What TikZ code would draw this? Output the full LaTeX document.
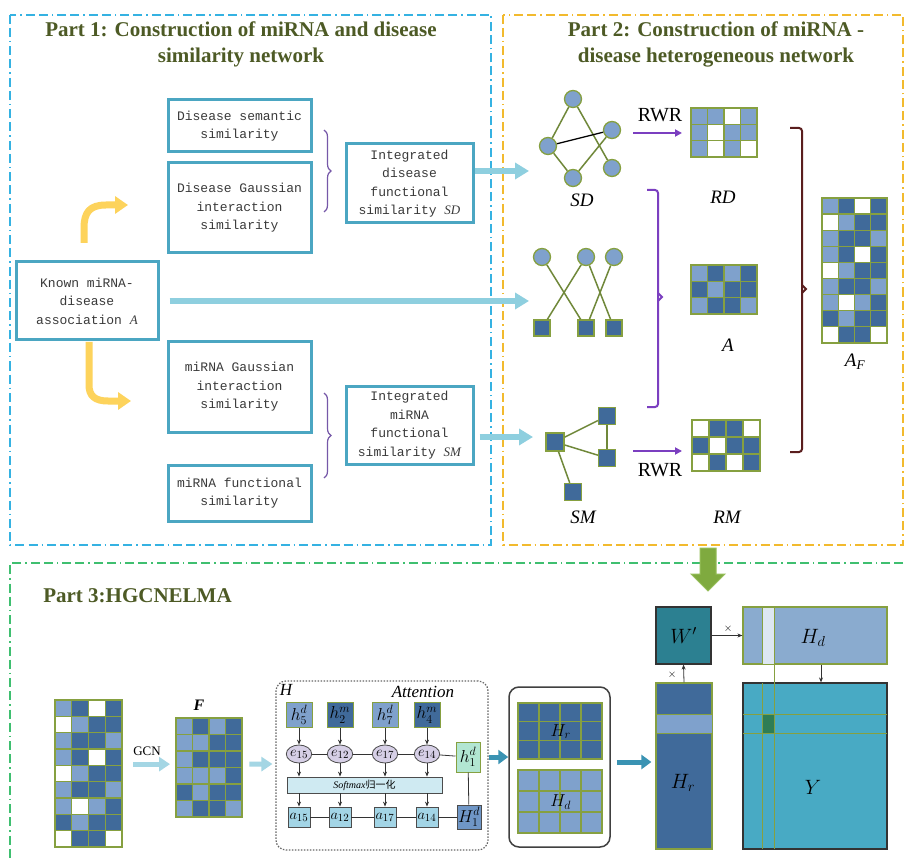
\documentclass[tikz,border=0pt]{standalone}
\usepackage{fontspec}
\setmainfont{Liberation Serif}
\setmonofont{Liberation Mono}
\newfontfamily\cjk{Noto Sans CJK SC}
\usetikzlibrary{arrows.meta,shapes.geometric,calc,decorations.pathreplacing}

\definecolor{cL}{HTML}{7FA1CC}
\definecolor{cD}{HTML}{406A9A}
\definecolor{cW}{HTML}{FFFFFF}
\definecolor{gridg}{HTML}{86A040}
\definecolor{edgeg}{HTML}{70883A}
\definecolor{boxb}{HTML}{4BA6C2}
\definecolor{titc}{HTML}{4D5A25}
\definecolor{frb}{HTML}{35B2E2}
\definecolor{fry}{HTML}{F2BA2E}
\definecolor{frg}{HTML}{3FBF70}
\definecolor{arrlb}{HTML}{8ECFDF}
\definecolor{arrlb2}{HTML}{A4D6E4}
\definecolor{yel}{HTML}{FDD35C}
\definecolor{purp}{HTML}{7B3FC0}
\definecolor{maroonc}{HTML}{5A1E1E}
\definecolor{bracep}{HTML}{7658A8}
\definecolor{teal2}{HTML}{3A93B3}
\definecolor{wcol}{HTML}{2C8091}
\definecolor{ycol}{HTML}{48AAC4}
\definecolor{hdl}{HTML}{8AABCF}
\definecolor{bandc}{HTML}{DDE7F2}
\definecolor{cellg}{HTML}{2E7D55}
\definecolor{ecol}{HTML}{D6CFE6}
\definecolor{h1col}{HTML}{B2E6D2}
\definecolor{acol}{HTML}{A3D5E6}
\definecolor{H1col}{HTML}{6F96C6}
\definecolor{softc}{HTML}{CFEAF2}
\definecolor{txt}{HTML}{3A3A3A}
\definecolor{gtip}{HTML}{7FAA3F}
\definecolor{gtipb}{HTML}{96BE5A}

\newcommand{\pmat}[7]{%
  \foreach \mrow [count=\mi] in {#7} {
    \foreach \mcell [count=\mj] in \mrow {
      \filldraw[fill=c\mcell, draw=gridg, line width=1.3pt] ({#2+(\mj-1)*#4},{#3+(\mi-1)*#5}) rectangle ++(#4,#5);
    }
  }
  \node[draw=gridg, line width=1.3pt, inner sep=0pt, minimum width={4*#4}, minimum height={#6*#5}, anchor=north west] (#1) at (#2,#3) {};
}

\tikzset{
  pbox/.style={draw=boxb, line width=3pt, fill=white, inner sep=1pt, align=center, text=txt, font=\ttfamily\fontsize{13}{18.5}\selectfont},
  fb/.style={draw=frb, line width=2pt, dash pattern=on 9pt off 4pt on 9pt off 4pt on 1.5pt off 4pt},
  fy/.style={draw=fry, line width=2pt, dash pattern=on 9pt off 4pt on 9pt off 4pt on 1.5pt off 4pt},
  fg/.style={draw=frg, line width=2pt, dash pattern=on 9pt off 4pt on 9pt off 4pt on 1.5pt off 4pt},
  ttl/.style={font=\bfseries\fontsize{21}{26}\selectfont, text=titc, align=center, inner sep=0pt},
  lab/.style={font=\itshape\fontsize{19}{22}\selectfont, inner sep=0pt},
  lb/.style={draw=arrlb, line width=6pt, -{Triangle[length=14pt,width=16pt]}},
  lb2/.style={draw=arrlb2, line width=5pt, -{Triangle[length=11pt,width=14pt]}},
  tarrow/.style={draw=teal2, line width=5pt, -{Triangle[length=10pt,width=14pt]}},
  yarr/.style={draw=yel, line width=7pt, -{Triangle[length=13pt,width=17pt]}},
  parr/.style={draw=purp, line width=2pt, -{Triangle[length=7pt,width=7pt]}},
  gc/.style={circle, draw=gridg, fill=cL, line width=1.3pt, minimum size=17pt, inner sep=0pt},
  gs/.style={rectangle, draw=gridg, fill=cD, line width=1.3pt, minimum size=16pt, inner sep=0pt},
  ge/.style={draw=edgeg, line width=1.5pt},
  sarr/.style={draw=black!80, line width=0.8pt, -{Stealth[length=5pt,width=4pt]}},
  hb/.style={draw=gridg, line width=1pt, minimum width=26pt, minimum height=25pt, inner sep=0pt, font=\fontsize{17}{20}\selectfont},
  eb/.style={ellipse, draw=black!70, fill=ecol, line width=0.8pt, minimum width=22pt, minimum height=18pt, inner sep=0pt, font=\fontsize{15}{18}\selectfont},
  ab/.style={draw=black!70, fill=acol, line width=0.8pt, minimum width=22pt, minimum height=20pt, inner sep=0pt, font=\fontsize{15}{18}\selectfont},
  mlab/.style={font=\fontsize{20}{24}\selectfont, inner sep=0pt},
}

\begin{document}
\begin{tikzpicture}[x=1pt,y=-1pt]
\useasboundingbox (0,0) rectangle (907,858);
\fill[white] (0,0) rectangle (907,858);

% frames
\draw[fb] (10,15) rectangle (491,545);
\draw[fy] (503,15) rectangle (903,545);
\draw[fg] (903,563) -- (10,563) -- (10,858);

% titles
\node[ttl] (t1) at (241,44) {Part 1: Construction of miRNA and disease\\similarity network};
\node[ttl] (t2) at (716,44.5) {Part 2: Construction of miRNA -\\disease heterogeneous network};
\node[ttl] (t3) at (137.5,596) {Part 3:HGCNELMA};

% ---------- Part 1 ----------
\node[pbox, minimum width=143pt, minimum height=52pt] (ds) at (239.5,126) {Disease semantic\\similarity};
\node[pbox, minimum width=143pt, minimum height=90pt] (dg) at (239.5,208) {Disease Gaussian\\interaction\\similarity};
\node[pbox, minimum width=127pt, minimum height=79pt] (isd) at (409.5,183.5) {Integrated\\disease\\functional\\similarity {\rmfamily\itshape SD}};
\node[pbox, minimum width=142pt, minimum height=78pt] (known) at (87,301) {Known miRNA-\\disease\\association {\rmfamily\itshape A}};
\node[pbox, minimum width=143pt, minimum height=90pt] (mg) at (239.5,387) {miRNA Gaussian\\interaction\\similarity};
\node[pbox, minimum width=143pt, minimum height=56pt] (mf) at (239.5,493) {miRNA functional\\similarity};
\node[pbox, minimum width=127pt, minimum height=78pt] (ism) at (409.5,425) {Integrated\\miRNA\\functional\\similarity {\rmfamily\itshape SM}};

\draw[bracep, line width=1.2pt, decorate, decoration={brace, amplitude=7pt}] (324,130) -- (324,212);
\draw[bracep, line width=1.2pt, decorate, decoration={brace, amplitude=7pt}] (324,393) -- (324,478);

% yellow arrows
\coordinate (y1s) at (84,243);
\coordinate (y1e) at (128,205);
\draw[yarr] (y1s) -- (84,228) .. controls (84,212) and (90,205) .. (106,205) -- (y1e);
\coordinate (y2s) at (89,342);
\coordinate (y2e) at (131,401);
\draw[yarr] (y2s) -- (89,385) .. controls (89,396) and (95,401) .. (108,401) -- (y2e);

% ---------- Part 2 ----------
% SD graph
\node[gc] (s1) at (573,99) {};
\node[gc] (s2) at (612,130) {};
\node[gc] (s3) at (548,146) {};
\node[gc] (s4) at (612,168) {};
\node[gc] (s5) at (573,178) {};
\draw[ge] (s1) -- (s3);
\draw[ge] (s1) -- (s4);
\draw[ge] (s3) -- (s5);
\draw[ge] (s2) -- (s5);
\draw[black, line width=1.3pt] (s3) -- (s2);
\node[lab] (sdl) at (582,200) {SD};

\coordinate (sdin) at (529,171);
\draw[lb] (isd.east |- sdin) -- (sdin);

% bipartite graph
\node[gc] (b1) at (542,257) {};
\node[gc] (b2) at (586,257) {};
\node[gc] (b3) at (614,257) {};
\node[gs] (q1) at (542,328) {};
\node[gs] (q2) at (586,328) {};
\node[gs] (q3) at (614,328) {};
\draw[ge] (b1) -- (q2);
\draw[ge] (b2) -- (q1);
\draw[ge] (b2) -- (q3);
\draw[ge] (b3) -- (q2);

\coordinate (ain) at (529,301);
\draw[lb] ($(known.east)+(10,0)$) -- (ain);

% SM graph
\node[gs, minimum size=18pt] (m1) at (555,442) {};
\node[gs, minimum size=17pt] (m2) at (607,416) {};
\node[gs, minimum size=17pt] (m3) at (607,458) {};
\node[gs, minimum size=17pt] (m4) at (573,492) {};
\draw[ge] (m1) -- (m2);
\draw[ge] (m1) -- (m3);
\draw[ge] (m2) -- (m3);
\draw[ge] (m1) -- (m4);
\node[lab] (sml) at (583,517) {SM};

\coordinate (smin) at (533,437);
\draw[lb] (ism.east |- smin) ++(5,0) -- (smin);

% matrices
\pmat{RD}{691}{108}{16.5}{16.33}{3}{{L,L,W,L},{L,W,L,L},{L,W,L,W}}
\pmat{Am}{691}{265}{16.5}{16.33}{3}{{L,D,L,D},{D,L,D,D},{L,D,D,L}}
\pmat{RM}{692}{420}{17}{17}{3}{{W,D,D,W},{D,W,D,D},{W,D,W,D}}
\pmat{AF}{822}{198}{16.25}{16.1}{9}{{L,D,W,D},{W,L,D,D},{L,D,D,L},{L,D,W,D},{W,L,D,D},{L,D,D,L},{L,W,L,D},{D,L,D,D},{W,D,D,W}}

\node[lab] (rdl) at (723,197) {RD};
\node[lab] (al) at (728,345) {A};
\node[lab] (rml) at (727,517) {RM};
\node[lab] (afl) at (855,362) {A\textsubscript{F}};

% RWR arrows
\coordinate (r1a) at (633,133);
\coordinate (r1b) at (682,133);
\draw[parr] (r1a) -- (r1b);
\node[font=\fontsize{20}{24}\selectfont, inner sep=0pt] (rwr1) at (660,115) {RWR};
\coordinate (r2a) at (633,451);
\coordinate (r2b) at (682,451);
\draw[parr] (r2a) -- (r2b);
\node[font=\fontsize{20}{24}\selectfont, inner sep=0pt] (rwr2) at (660,470) {RWR};

% brackets
\draw[purp, line width=2pt, rounded corners=3pt] (647,190) -- (658,190) -- (658,297) -- (658,407) -- (647,407);
\draw[purp, line width=1.8pt, line join=miter] (658,293) -- (662,297) -- (658,301);
\draw[maroonc, line width=2pt, rounded corners=3pt] (790,128) -- (802,128) -- (802,289) -- (802,452) -- (790,452);
\draw[maroonc, line width=1.8pt, line join=miter] (802,285) -- (806,289) -- (802,293);

% green block arrow
\filldraw[fill=gtip, draw=gtipb, line width=1pt] (700,548) -- (716,548) -- (716,574) -- (725,574) -- (708,591) -- (691,574) -- (700,574) -- cycle;

% ---------- Part 3 ----------
\pmat{X}{55}{700}{16.75}{16.33}{9}{{L,D,W,D},{W,L,D,D},{L,D,D,L},{L,D,W,D},{W,L,D,D},{L,D,D,L},{L,W,L,D},{D,L,D,D},{W,D,D,W}}
\pmat{F}{176}{718}{16.5}{16.5}{6}{{L,D,L,D},{L,L,D,D},{L,D,D,D},{L,L,L,D},{D,L,D,D},{L,D,D,L}}
\node[font=\bfseries\itshape\fontsize{16}{18}\selectfont, inner sep=0pt] (fl) at (199,705) {F};

\draw[lb2] ($(X.east |- F.west)+(10,-4)$) -- ($(F.west)+(-6,-4)$);
\node[font=\fontsize{13}{15}\selectfont, inner sep=0pt] (gcn) at (147,751) {GCN};

% attention box
\node[draw=black!60, line width=1.2pt, dash pattern=on 1.5pt off 1.5pt, rounded corners=10pt, minimum width=212pt, minimum height=169pt, inner sep=0pt] (att) at (382,765.5) {};
\draw[lb2] ($(F.east)+(6,-4)$) -- ($(att.west)+(-3,-1.5)$);
\node[font=\itshape\fontsize{17}{20}\selectfont, inner sep=0pt] (Hl) at (286,690) {H};
\node[font=\itshape\fontsize{17}{20}\selectfont, inner sep=0pt] (attl) at (423,692) {Attention};

\node[hb, fill=cL] (h5) at (299,715) {$h_5^d$};
\node[hb, fill=cD] (h2) at (340,715) {$h_2^m$};
\node[hb, fill=cL] (h7) at (385,715) {$h_7^d$};
\node[hb, fill=cD] (h4) at (427,715) {$h_4^m$};
\node[eb] (e1) at (299,754) {$e_{15}$};
\node[eb] (e2) at (340,754) {$e_{12}$};
\node[eb] (e3) at (385,754) {$e_{17}$};
\node[eb] (e4) at (427,754) {$e_{14}$};
\node[hb, fill=h1col, minimum width=24pt, minimum height=30pt] (h1) at (468,757) {$h_1^d$};
\node[draw=black!70, fill=softc, line width=0.8pt, minimum width=155pt, minimum height=16pt, inner sep=0pt, font=\fontsize{10}{12}\selectfont] (soft) at (364.5,785) {\textit{Softmax}{\cjk 归一化}};
\node[ab] (a1) at (299,817) {$a_{15}$};
\node[ab] (a2) at (340,817) {$a_{12}$};
\node[ab] (a3) at (385,817) {$a_{17}$};
\node[ab] (a4) at (427,817) {$a_{14}$};
\node[ab, fill=H1col, minimum width=24pt, minimum height=24pt, font=\fontsize{17}{20}\selectfont] (H1) at (469,817) {$H_1^d$};

\draw[sarr] (h5) -- (e1);
\draw[sarr] (h2) -- (e2);
\draw[sarr] (h7) -- (e3);
\draw[sarr] (h4) -- (e4);
\foreach \e in {e1,e2,e3,e4}{
  \draw[sarr] (\e.south) -- (\e.south |- soft.north);
}
\foreach \a in {a1,a2,a3,a4}{
  \draw[sarr] (\a.north |- soft.south) -- (\a.north);
}
\draw[black!80, line width=0.8pt] (e1) -- (e2);
\draw[black!80, line width=0.8pt] (e2) -- (e3);
\draw[black!80, line width=0.8pt] (e3) -- (e4);
\draw[black!80, line width=0.8pt] (e4) -- (h1);
\draw[black!80, line width=0.8pt] (a1) -- (a2);
\draw[black!80, line width=0.8pt] (a2) -- (a3);
\draw[black!80, line width=0.8pt] (a3) -- (a4);
\draw[black!80, line width=0.8pt] (a4) -- (H1);
\draw[black!80, line width=0.8pt] (h1) -- (H1);

% H_r / H_d box
\node[draw=black!75, line width=1.5pt, rounded corners=10pt, minimum width=101pt, minimum height=160pt, inner sep=0pt] (hh) at (559.5,767) {};
\pmat{Hrg}{518}{703}{21}{18.67}{3}{{D,D,D,D},{D,D,D,D},{D,D,D,D}}
\pmat{Hdg}{518}{770}{21}{21}{3}{{L,L,L,L},{L,L,L,L},{L,L,L,L}}
\node[mlab, font=\fontsize{18}{22}\selectfont] (hrl) at (Hrg) {$H_r$};
\node[mlab, font=\fontsize{18}{22}\selectfont] (hdl2) at (Hdg) {$H_d$};
\draw[tarrow] (att.east |- h1) -- (hh.west |- h1);

% right side
\node[draw=gridg, fill=cD, line width=1.2pt, minimum width=56pt, minimum height=166pt, inner sep=0pt] (Hr) at (684,766) {};
\filldraw[fill=cL, draw=gridg, line width=1pt] (656,714) rectangle (712,733);
\node[mlab] (hrl2) at (683,783) {$H_r$};
\draw[tarrow] ($(hh.east)+(6,-5)$) -- ($(Hr.west)+(-4,-4)$);

\node[draw=black!80, fill=wcol, line width=1.2pt, minimum width=55pt, minimum height=57pt, inner sep=0pt, font=\fontsize{20}{24}\selectfont] (W) at (683.5,635.5) {$W'$};
\node[draw=gridg, fill=hdl, line width=1.2pt, minimum width=144pt, minimum height=57pt, inner sep=0pt] (Hd) at (815,635.5) {};
\filldraw[fill=bandc, draw=gridg, line width=1pt] (762,607) rectangle (774,664);
\node[mlab] (hdl3) at (813,638) {$H_d$};

\node[draw=black!80, fill=ycol, line width=1.2pt, minimum width=144pt, minimum height=166pt, inner sep=0pt] (Y) at (815,766) {};
\fill[cellg] (762,714) rectangle (774,733);
\draw[gridg, line width=1pt] (762,683) -- (762,849) (774,664) -- (774,849) (743,714) -- (887,714) (743,733) -- (887,733);
\node[mlab] (yl) at (813,787) {$Y$};

\draw[sarr] (Hr.north) -- (W.south);
\node[font=\fontsize{11}{12}\selectfont, inner sep=0pt] (x1) at (672,675) {$\times$};
\draw[sarr] (W.east) -- (Hd.west);
\node[font=\fontsize{11}{12}\selectfont, inner sep=0pt] (x2) at (728,629) {$\times$};
\draw[sarr] ($(Hd.south)+(6,0)$) -- ($(Y.north)+(6,0)$);

\end{tikzpicture}
\end{document}
